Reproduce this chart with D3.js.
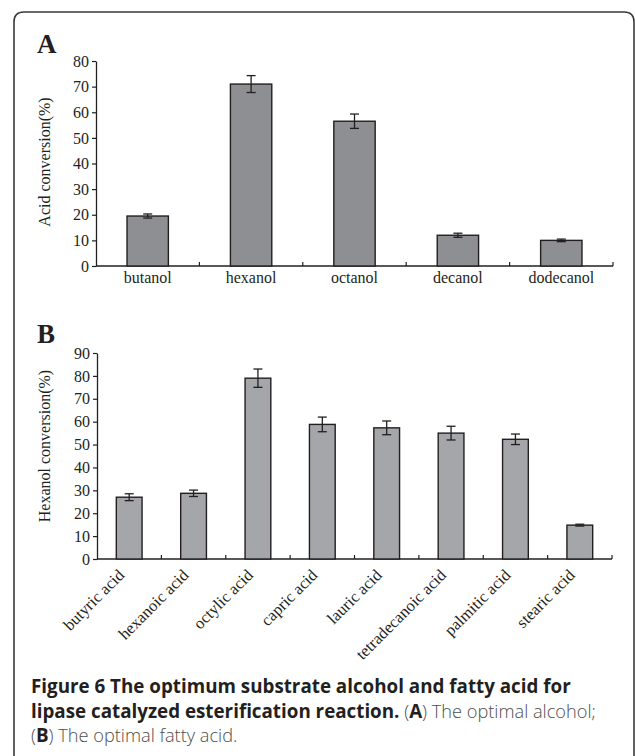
<!DOCTYPE html>
<html>
<head>
<meta charset="utf-8">
<script src="https://cdn.jsdelivr.net/npm/d3@7"></script>
<style>
  html, body { margin: 0; padding: 0; background: #fff; }
  svg { display: block; }
</style>
</head>
<body>
<script>
// ---- Data ----
const alcohols = ["butanol", "hexanol", "octanol", "decanol", "dodecanol"];
const alcoholValues = [19.5, 71, 56.5, 12, 10];
const alcoholErrors = [0.8, 3.3, 2.8, 0.8, 0.5];
const alcoholTicks = [0, 10, 20, 30, 40, 50, 60, 70, 80];

const acids = ["butyric acid", "hexanoic acid", "octylic acid", "capric acid", "lauric acid", "tetradecanoic acid", "palmitic acid", "stearic acid"];
const acidValues = [27, 28.7, 79, 58.8, 57.3, 55, 52.3, 14.8];
const acidErrors = [1.5, 1.4, 4, 3.2, 3, 3, 2.3, 0.4];
const acidTicks = [0, 10, 20, 30, 40, 50, 60, 70, 80, 90];

const W = 635, H = 756;
const ink = "#231f20";
const serif = "'Liberation Serif', 'Times New Roman', serif";

const svg = d3.select("body").append("svg").attr("width", W).attr("height", H);

// Frame
svg.append("path")
  .attr("d", "M14,770 L14,22 Q14,12 24,12 L624,12 Q634,12 634,22 L634,770")
  .attr("fill", "none").attr("stroke", "#3a3a3a").attr("stroke-width", 1.6);

function panel(opts) {
  const { cats, vals, errs, ticks, x0, x1, y0, y1, fill, title, letter, letterPos, rotate, titleX, titleY } = opts;
  const g = svg.append("g");
  const x = d3.scaleBand().domain(cats).range([x0, x1]).paddingInner(0).paddingOuter(0);
  const y = d3.scaleLinear().domain([0, d3.max(ticks)]).range([y0, y1]);

  // Y axis
  const yAxis = d3.axisLeft(y).tickValues(ticks).tickSize(4).tickSizeOuter(0).tickPadding(3);
  const ya = g.append("g").attr("transform", `translate(${x0},0)`).call(yAxis);
  ya.select(".domain").attr("stroke", ink).attr("stroke-width", 1.3);
  ya.selectAll(".tick line").attr("stroke", ink).attr("stroke-width", 1.2);
  ya.selectAll(".tick text").attr("fill", ink).style("font-family", serif).style("font-size", "16px");

  // X axis: baseline with inward ticks at band boundaries
  g.append("line").attr("x1", x0).attr("x2", x1).attr("y1", y0).attr("y2", y0)
    .attr("stroke", ink).attr("stroke-width", 1.3);
  const bounds = cats.map(c => x(c) + x.bandwidth());
  g.selectAll(".bt").data(bounds).join("line")
    .attr("x1", d => d).attr("x2", d => d).attr("y1", y0).attr("y2", y0 - 4)
    .attr("stroke", ink).attr("stroke-width", 1.2);

  const bw = x.bandwidth() * 0.4;
  // Bars
  g.selectAll(".bar").data(cats).join("rect")
    .attr("x", (d) => x(d) + x.bandwidth() / 2 - bw / 2)
    .attr("width", bw)
    .attr("y", (d, i) => y(vals[i]))
    .attr("height", (d, i) => y0 - y(vals[i]))
    .attr("fill", fill).attr("stroke", ink).attr("stroke-width", 1.4);

  // Error bars
  const cap = 4.5;
  const eb = g.selectAll(".eb").data(cats).join("g");
  eb.append("line")
    .attr("x1", d => x(d) + x.bandwidth() / 2).attr("x2", d => x(d) + x.bandwidth() / 2)
    .attr("y1", (d, i) => y(vals[i] + errs[i])).attr("y2", (d, i) => y(vals[i] - errs[i]))
    .attr("stroke", ink).attr("stroke-width", 1.3);
  [1, -1].forEach(s => {
    eb.append("line")
      .attr("x1", d => x(d) + x.bandwidth() / 2 - cap).attr("x2", d => x(d) + x.bandwidth() / 2 + cap)
      .attr("y1", (d, i) => y(vals[i] + s * errs[i])).attr("y2", (d, i) => y(vals[i] + s * errs[i]))
      .attr("stroke", ink).attr("stroke-width", 1.3);
  });

  // Category labels
  if (!rotate) {
    g.selectAll(".cl").data(cats).join("text")
      .attr("x", d => x(d) + x.bandwidth() / 2).attr("y", y0 + 17)
      .attr("text-anchor", "middle").attr("fill", ink)
      .style("font-family", serif).style("font-size", "16px").text(d => d);
  } else {
    g.selectAll(".cl").data(cats).join("text")
      .attr("transform", d => `translate(${x(d) + x.bandwidth() / 2 - 8},${y0 + 13}) rotate(-45)`)
      .attr("text-anchor", "end").attr("dy", "0.35em").attr("fill", ink)
      .style("font-family", serif).style("font-size", "16.5px").text(d => d);
  }

  // Y title
  g.append("text")
    .attr("transform", `translate(${titleX},${titleY}) rotate(-90)`)
    .attr("text-anchor", "middle").attr("fill", ink)
    .style("font-family", serif).style("font-size", "16px").text(title);

  // Panel letter
  g.append("text").attr("x", letterPos[0]).attr("y", letterPos[1])
    .attr("fill", ink).style("font-family", serif).style("font-size", "27px")
    .style("font-weight", "bold").text(letter);
}

panel({ cats: alcohols, vals: alcoholValues, errs: alcoholErrors, ticks: alcoholTicks,
  x0: 96, x1: 613, y0: 266, y1: 61, fill: "#8e8f93", title: "Acid conversion(%)",
  letter: "A", letterPos: [37, 53], rotate: false, titleX: 50, titleY: 162 });

panel({ cats: acids, vals: acidValues, errs: acidErrors, ticks: acidTicks,
  x0: 97, x1: 612, y0: 559, y1: 353, fill: "#a5a6aa", title: "Hexanol conversion(%)",
  letter: "B", letterPos: [37, 343], rotate: true, titleX: 50, titleY: 446 });

// Caption
const capG = svg.append("g").style("font-family", "'Open Sans', sans-serif").style("font-size", "18.8px");
const reg = (t, s) => t.append("tspan").attr("fill", "#4d4d4d").attr("font-weight", 300).style("font-size", "18.2px").text(s);
const bold = (t, s) => t.append("tspan").attr("font-weight", "bold").attr("fill", "#231f20").text(s);
const l1 = capG.append("text").attr("x", 31).attr("y", 693);
bold(l1, "Figure 6 The optimum substrate alcohol and fatty acid for");
const l2 = capG.append("text").attr("x", 31).attr("y", 718);
bold(l2, "lipase catalyzed esterification reaction.");
reg(l2, " (");
bold(l2, "A");
reg(l2, ") The optimal alcohol;");
const l3 = capG.append("text").attr("x", 31).attr("y", 742);
reg(l3, "(");
bold(l3, "B");
reg(l3, ") The optimal fatty acid.");
</script>
</body>
</html>
